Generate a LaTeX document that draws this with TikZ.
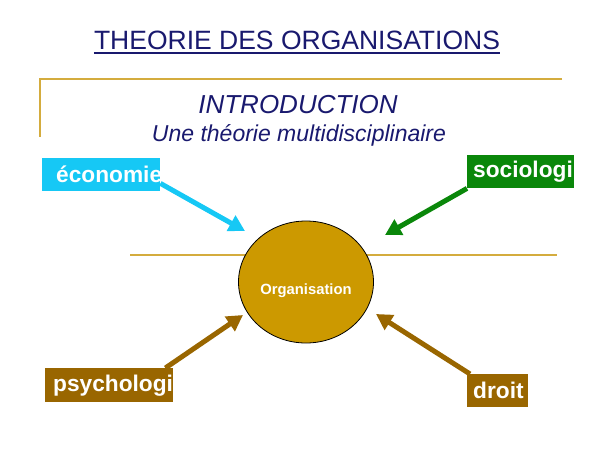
\documentclass[tikz,border=0pt]{standalone}
\usepackage{fontspec}
\setmainfont{Liberation Sans}
\usepackage{tikz}
\usetikzlibrary{arrows.meta,positioning,shapes.geometric}
\definecolor{titlenavy}{RGB}{25,25,110}
\definecolor{rulegold}{RGB}{212,172,62}
\definecolor{orggold}{RGB}{204,153,0}
\definecolor{ecocyan}{RGB}{22,200,245}
\definecolor{sociogreen}{RGB}{10,135,10}
\definecolor{psybrown}{RGB}{153,102,0}
\tikzset{
    >={Triangle[length=16pt,width=17pt]},
    field/.style={fill=#1,text=white,anchor=north west,inner ysep=0pt,
        minimum height=33pt,font=\bfseries\fontsize{22.7}{26}\selectfont},
    feed/.style={->,draw=#1,line width=5pt},
    goldrule/.style={draw=rulegold,line width=1.8pt}
}

\begin{document}
\begin{tikzpicture}[x=1pt,y=-1pt]
        \useasboundingbox (0,0) rectangle (600,450);

        % Titles
        \node[anchor=base,inner sep=0pt,text=titlenavy,font=\fontsize{26.5}{30}\selectfont] (title) at (297,49)
            {THEORIE DES ORGANISATIONS};
        \draw[titlenavy,line width=1.6pt] ([yshift=-4pt]title.base west) -- ([yshift=-4pt]title.base east);
        \node[anchor=base,inner sep=0pt,text=titlenavy,font=\itshape\fontsize{26}{30}\selectfont] (intro) at (298,113)
            {INTRODUCTION};
        \node[anchor=base,inner sep=0pt,text=titlenavy,font=\itshape\fontsize{23}{27}\selectfont] (sub) at (299,141)
            {Une théorie multidisciplinaire};

        % Gold rules
        \coordinate (ruletop) at (562,79);
        \coordinate (rulecorner) at (40,79);
        \coordinate (rulefoot) at (40,137);
        \draw[goldrule] (ruletop) -- (rulecorner) -- (rulefoot);
        \coordinate (midleft) at (130,255);
        \coordinate (midright) at (557,255);
        \draw[goldrule] (midleft) -- (midright);

        % The organisation in the middle
        \node[ellipse,draw=black,line width=0.8pt,fill=orggold,minimum width=135pt,minimum height=122pt,
            inner sep=0pt] (org) at (306,282) {};
        \node[text=white,font=\bfseries\fontsize{14.8}{17}\selectfont,inner sep=0pt] (orgtxt) at (306,291) {Organisation};

        % The four disciplines
        \node[field=ecocyan,inner xsep=14pt] (eco) at (42,158) {\makebox[90pt][l]{économie}};
        \node[field=sociogreen,inner xsep=6pt] (socio) at (467,155) {\makebox[95pt][l]{sociologi}};
        \node[field=psybrown,inner xsep=8pt,minimum height=34pt] (psy) at (45,368) {\makebox[112pt][l]{psychologi}};
        \node[field=psybrown,inner xsep=6pt] (droit) at (467,374) {\makebox[49pt][l]{droit}};

        % Arrows towards the organisation
        \draw[feed=ecocyan] ([yshift=8pt]eco.south east) -- ([shift={(-61,-51)}]org.center);
        \draw[feed=sociogreen] (socio.south west) -- ([shift={(79,-47)}]org.center);
        \draw[feed=psybrown] ([xshift=-8pt]psy.north east) -- ([shift={(-63,33)}]org.center);
        \draw[feed=psybrown] ([xshift=3pt]droit.north west) -- ([shift={(70,32)}]org.center);
\end{tikzpicture}
\end{document}
